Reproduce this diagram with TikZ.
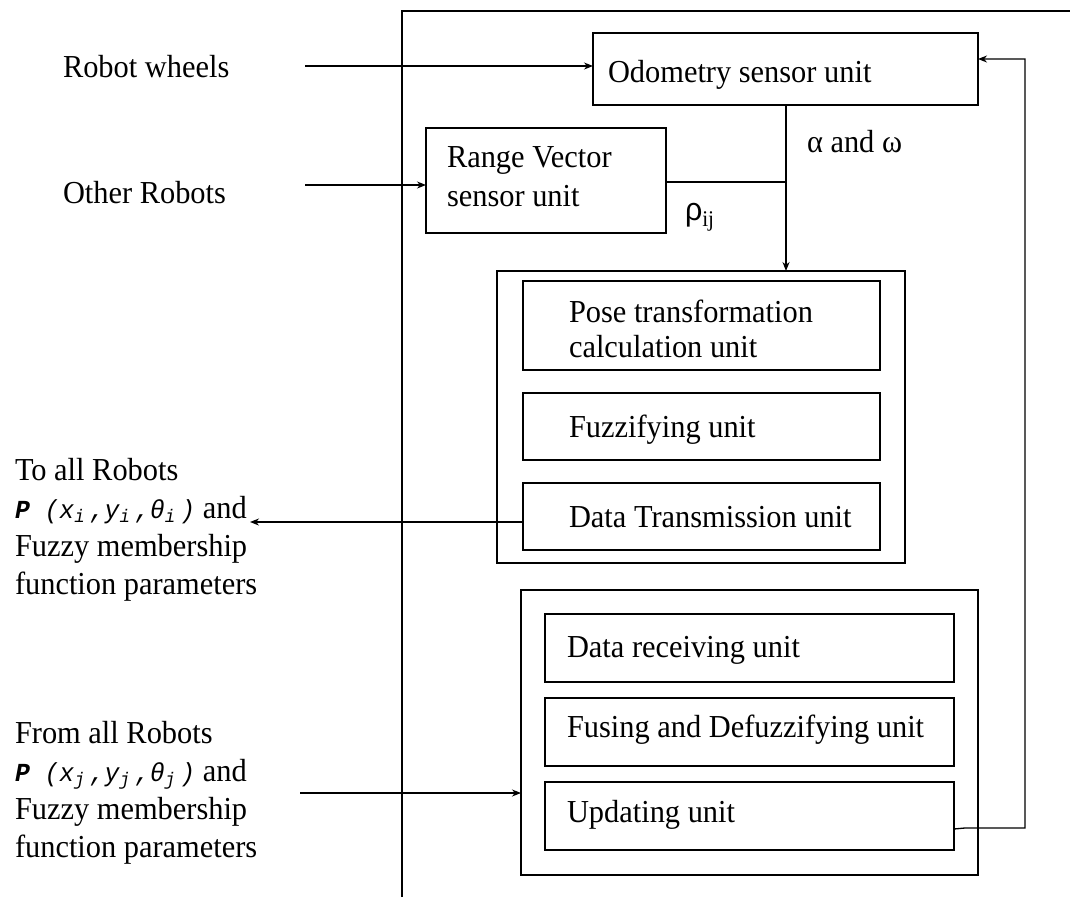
\documentclass[tikz,border=0pt]{standalone}
\usepackage{fontspec}
\setmainfont{Liberation Serif}[FakeStretch=0.95]
\newfontfamily\sansf{Liberation Sans}[FakeStretch=0.95]
\newfontfamily\monof{Liberation Mono}[FakeStretch=0.95]
\usetikzlibrary{arrows.meta}
\newcommand\myfs{\fontsize{32}{38}\selectfont}
\newcommand\monofs{\fontsize{26}{38}\selectfont}
\newcommand\msub[1]{\makebox[0.6em][l]{\textsubscript{#1}}}
\newcommand\pline[1]{{\monofs\monof\itshape\textbf{P} (x\msub{#1},y\msub{#1},θ\msub{#1})} and}
\tikzset{
  ubox/.style={draw, line width=1.6pt, anchor=north west, inner sep=0pt, outer sep=0pt},
  grp/.style={draw, line width=1.6pt, anchor=north west, inner sep=0pt, outer sep=0pt},
  txt/.style={font=\myfs, inner sep=0pt, outer sep=0pt, align=left},
  conn/.style={line width=1.3pt},
  arr/.style={conn, -{Stealth[length=9pt,width=7pt]}},
  lbl/.style={font=\myfs, inner sep=0pt, outer sep=0pt, align=left},
  frame/.style={line width=1.6pt}
}
\begin{document}
\begin{tikzpicture}[x=1pt,y=-1pt]
\useasboundingbox (0,0) rectangle (1070,897);
% outer frame
\coordinate (fBL) at (402,897);
\coordinate (fTL) at (402,11);
\coordinate (fTR) at (1070,11);
\draw[frame] (fBL) -- (fTL) -- (fTR);

% top units
\node[ubox, minimum width=385pt, minimum height=72pt] (odo) at (593,33) {};
\node[txt, anchor=base west] (odoT) at ([xshift=15pt,yshift=-49pt]odo.north west) {Odometry sensor unit};
\node[ubox, minimum width=240pt, minimum height=105pt] (range) at (426,128) {};
\node[txt, anchor=north west, font=\fontsize{32}{39}\selectfont] (rangeT) at ([xshift=21pt,yshift=-19pt]range.north west) {Range Vector\\sensor unit};

% group 1
\node[grp, minimum width=408pt, minimum height=292pt] (g1) at (497,271) {};
\node[ubox, minimum width=357pt, minimum height=89pt] (pose) at (523,281) {};
\node[txt, anchor=north west, font=\fontsize{32}{35}\selectfont] (poseT) at ([xshift=46pt,yshift=-19pt]pose.north west) {Pose transformation\\calculation unit};
\node[ubox, minimum width=357pt, minimum height=67pt] (fuzz) at (523,393) {};
\node[txt, anchor=base west] (fuzzT) at ([xshift=46pt,yshift=-44pt]fuzz.north west) {Fuzzifying unit};
\node[ubox, minimum width=357pt, minimum height=67pt] (dtx) at (523,483) {};
\node[txt, anchor=base west] (dtxT) at ([xshift=46pt,yshift=-44pt]dtx.north west) {Data Transmission unit};

% group 2
\node[grp, minimum width=457pt, minimum height=285pt] (g2) at (521,590) {};
\node[ubox, minimum width=409pt, minimum height=68pt] (drecv) at (545,614) {};
\node[txt, anchor=base west] (drecvT) at ([xshift=22pt,yshift=-43pt]drecv.north west) {Data receiving unit};
\node[ubox, minimum width=409pt, minimum height=68pt] (fuse) at (545,698) {};
\node[txt, anchor=base west] (fuseT) at ([xshift=22pt,yshift=-39pt]fuse.north west) {Fusing and Defuzzifying unit};
\node[ubox, minimum width=409pt, minimum height=68pt] (upd) at (545,782) {};
\node[txt, anchor=base west] (updT) at ([xshift=22pt,yshift=-40pt]upd.north west) {Updating unit};

% left labels
\node[lbl, anchor=base west] (rw) at (63,77) {Robot wheels};
\node[lbl, anchor=base west] (orob) at (63,203) {Other Robots};
\node[lbl, anchor=north west] (toall) at (15,458) {To all Robots\\\pline{i}\\Fuzzy membership\\function parameters};
\node[lbl, anchor=north west] (fromall) at (15,721) {From all Robots\\\pline{j}\\Fuzzy membership\\function parameters};

% signal labels
\node[lbl, anchor=base west] (aw) at (807,152) {α and ω};
\node[lbl, anchor=base west] (rho) at (685,220) {{\sansf ρ}\textsubscript{ij}};

% connectors
\coordinate (rwS) at (305,66);
\draw[arr] (rwS) -- (rwS -| odo.west);
\coordinate (orS) at (305,185);
\draw[arr] (orS) -- (orS -| range.west);
\coordinate (vx) at (786,105);
\coordinate (jn) at (786,182);
\draw[conn] (range.east |- jn) -- (jn);
\draw[arr] (vx) -- (vx |- g1.north);
\coordinate (toE) at (250,522);
\draw[arr] (dtx.west |- toE) -- (toE);
\coordinate (frS) at (300,793);
\draw[arr] (frS) -- (frS -| g2.west);
\coordinate (fb0) at (954,829);
\coordinate (fb1) at (965,828);
\coordinate (fb2) at (1025,828);
\coordinate (fb3) at (1025,59);
\draw[arr] (fb0) -- (fb1) -- (fb2) -- (fb3) -- (fb3 -| odo.east);
\end{tikzpicture}
\end{document}
